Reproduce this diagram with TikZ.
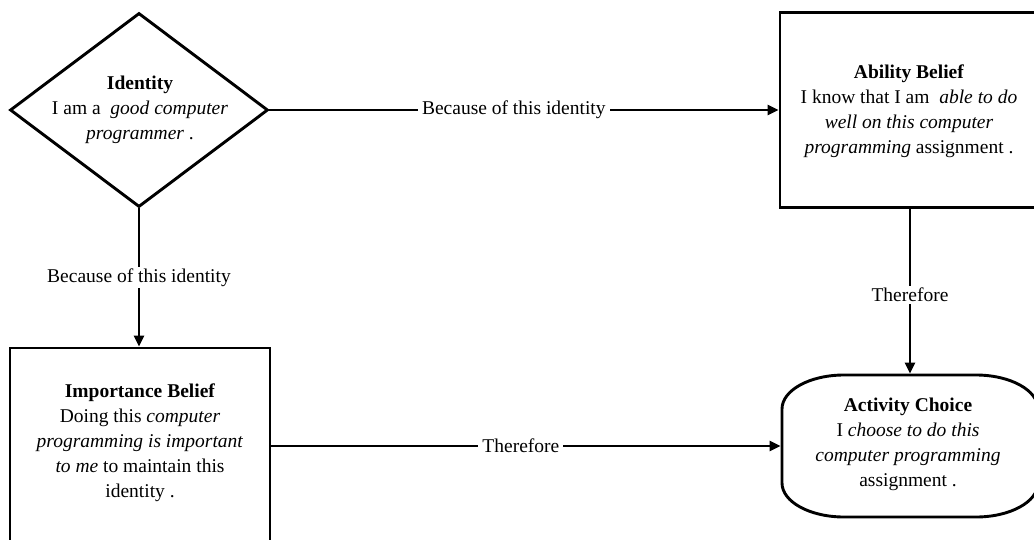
\documentclass[tikz,border=0pt]{standalone}
\usepackage{fontspec}
\setmainfont{Liberation Serif}
\usetikzlibrary{shapes.geometric,arrows.meta}
\begin{document}
\begin{tikzpicture}[x=1pt,y=-1pt,
  line width=2.9pt,
  every node/.style={font=\fontsize{19.5}{25}\selectfont},
  body/.style={align=center, inner sep=0pt},
  box/.style={draw, rectangle, inner sep=0pt},
  link/.style={-{Triangle[length=11pt,width=10pt]}},
  lbl/.style={fill=white, inner xsep=4pt, inner ysep=2pt}
]
\useasboundingbox (0,0) rectangle (1034,539);

% Identity (diamond)
\node[draw, diamond, minimum width=258pt, minimum height=194pt, inner sep=0pt] (idshape) at (139,110) {};
\node[body] (idtext) at (140,110) {\textbf{Identity}\\I am a \ \textit{good computer}\\\textit{programmer} .};

% Ability belief
\node[box, minimum width=260pt, minimum height=195pt] (ability) at (910,110) {};
\node[body] (abtext) at (909,111) {\textbf{Ability Belief}\\I know that I am \ \textit{able to do}\\\textit{well on this computer}\\\textit{programming} assignment .};

% Importance belief
\node[box, minimum width=260pt, minimum height=232pt] (importance) at (140,464) {};
\node[body] (imtext) at (140,443) {\textbf{Importance Belief}\\Doing this \textit{computer}\\\textit{programming is important}\\\textit{to me} to maintain this\\identity .};

% Activity choice (stadium with elliptical ends)
\node[minimum width=256pt, minimum height=142pt, inner sep=0pt] (act) at (910,446) {};
\draw (844,375) -- (976,375)
  arc[start angle=-90, end angle=0, x radius=62, y radius=34] -- (1038,483)
  arc[start angle=0, end angle=90, x radius=62, y radius=34] -- (844,517)
  arc[start angle=90, end angle=180, x radius=62, y radius=34] -- (782,409)
  arc[start angle=180, end angle=270, x radius=62, y radius=34] -- cycle;
\node[body] (actext) at (908,444) {\textbf{Activity Choice}\\I \textit{choose to do this}\\\textit{computer programming}\\assignment .};

% Connectors
\draw[link] (idshape.east) -- node[lbl, pos=0.48] {Because of this identity} (ability.west);
\draw[link] (idshape.south) -- node[lbl] {Because of this identity} (idshape.south |- importance.north);
\draw[link] (ability.south) -- node[lbl, pos=0.52] {Therefore} (act.north);
\draw[link] (importance.east |- act.west) -- node[lbl, pos=0.49] {Therefore} (act.west);
\end{tikzpicture}
\end{document}
